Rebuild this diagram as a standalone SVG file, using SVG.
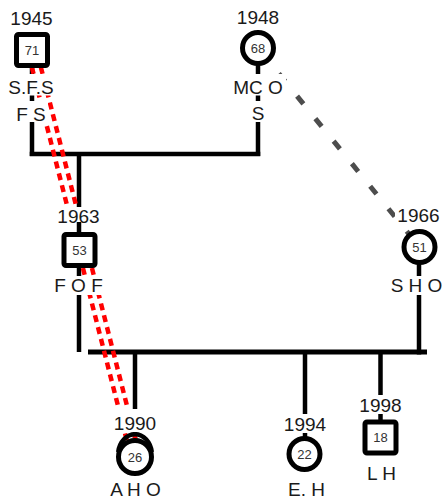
<svg xmlns="http://www.w3.org/2000/svg" width="445" height="502" viewBox="0 0 445 502">
  <style>
    .ln { stroke: #000; stroke-width: 4.5; fill: none; }
    .bar { stroke: #000; stroke-width: 5; fill: none; }
    .red { stroke: #f00; stroke-width: 4.5; fill: none; stroke-dasharray: 7 5.2; stroke-dashoffset: 6.9; }
    .gray { stroke: #4d4d4d; stroke-width: 5; fill: none; stroke-dasharray: 10 19; stroke-dashoffset: 25; }
    .nd { fill: #fff; stroke: #000; stroke-width: 5; }
    .bg { fill: #fff; }
    .lbl { font-family: "Liberation Sans", Arial, sans-serif; font-size: 19px; fill: #1a1a1a; text-anchor: middle; }
    .num { font-family: "Liberation Sans", Arial, sans-serif; font-size: 13px; fill: #333; text-anchor: middle; }
  </style>

  <g id="connectors">
    <!-- parents of 1963 -->
    <line class="ln" x1="32" y1="50" x2="32" y2="156"/>
    <line class="ln" x1="258" y1="48" x2="258" y2="156"/>
    <line class="ln" x1="29.75" y1="154" x2="260.25" y2="154"/>
    <line class="ln" x1="79" y1="154" x2="79" y2="250"/>
    <!-- parents of the three children -->
    <line class="ln" x1="79" y1="250" x2="79" y2="352"/>
    <line class="ln" x1="419" y1="247" x2="419" y2="354.5"/>
    <line class="bar" x1="88" y1="352" x2="427" y2="352"/>
    <line class="ln" x1="135" y1="352" x2="135" y2="456"/>
    <line class="ln" x1="305" y1="352" x2="305" y2="454"/>
    <line class="ln" x1="380.5" y1="352" x2="380.5" y2="437"/>
    <!-- special relations -->
    <line class="gray" x1="258" y1="48" x2="419.5" y2="247"/>
    <line class="red" x1="27.5" y1="50" x2="130.5" y2="455"/>
    <line class="red" x1="36.5" y1="50" x2="139.5" y2="455"/>
  </g>

  <g id="p1945">
    <rect class="bg" x="9" y="9" width="46" height="19"/>
    <text class="lbl" x="31.5" y="25">1945</text>
    <rect class="nd" x="16.5" y="34.5" width="31" height="31" rx="2"/>
    <text class="num" x="32" y="54.5">71</text>
    <rect class="bg" x="6" y="74" width="51" height="21.5"/>
    <text class="lbl" x="31" y="94">S.F.S</text>
    <rect class="bg" x="15" y="101" width="33" height="21"/>
    <text class="lbl" x="31" y="121">F S</text>
  </g>

  <g id="p1948">
    <rect class="bg" x="235" y="8" width="46" height="19"/>
    <text class="lbl" x="258" y="24">1948</text>
    <circle class="nd" cx="258" cy="48" r="15.5"/>
    <text class="num" x="258" y="52.5">68</text>
    <rect class="bg" x="231" y="74" width="55" height="21.5"/>
    <text class="lbl" x="258" y="94">MC O</text>
    <rect class="bg" x="250" y="101" width="16" height="21"/>
    <text class="lbl" x="258" y="120">S</text>
  </g>

  <g id="p1963">
    <rect class="bg" x="56" y="207" width="46" height="18"/>
    <text class="lbl" x="78.5" y="223">1963</text>
    <rect class="bg" x="61" y="225" width="37" height="43"/>
    <line class="ln" x1="79" y1="222" x2="79" y2="240"/>
    <rect class="nd" x="64" y="234.5" width="31" height="31" rx="2"/>
    <text class="num" x="79.5" y="254.5">53</text>
    <rect class="bg" x="54" y="276" width="50" height="19"/>
    <text class="lbl" x="78.5" y="292">F O F</text>
  </g>

  <g id="p1966">
    <rect class="bg" x="395" y="206" width="47" height="18"/>
    <text class="lbl" x="418.5" y="222">1966</text>
    <circle class="nd" cx="419.5" cy="247" r="15.5"/>
    <text class="num" x="419.5" y="251.5">51</text>
    <rect class="bg" x="391" y="276" width="52" height="19"/>
    <text class="lbl" x="416.5" y="292">S H O</text>
  </g>

  <g id="c1990">
    <rect class="bg" x="111" y="409" width="48" height="23"/>
    <text class="lbl" x="135" y="430">1990</text>
    <path d="M118.2,452 A17,21 0 0 1 151.8,452" fill="none" stroke="#000" stroke-width="4.5"/>
    <circle class="nd" cx="135" cy="457" r="16.5"/>
    <text class="num" x="135" y="461.5">26</text>
    <text class="lbl" x="135.5" y="496">A H O</text>
  </g>

  <g id="c1994">
    <rect class="bg" x="281" y="414" width="48" height="19"/>
    <text class="lbl" x="305" y="431">1994</text>
    <circle class="nd" cx="304.5" cy="454" r="15.5"/>
    <text class="num" x="304.5" y="458.5">22</text>
    <text class="lbl" x="306.5" y="496">E. H</text>
  </g>

  <g id="c1998">
    <rect class="bg" x="356" y="395" width="49" height="19"/>
    <text class="lbl" x="380.5" y="412">1998</text>
    <rect class="nd" x="365" y="422" width="31" height="31" rx="2"/>
    <text class="num" x="380.5" y="442">18</text>
    <text class="lbl" x="381.5" y="480">L H</text>
  </g>
</svg>
